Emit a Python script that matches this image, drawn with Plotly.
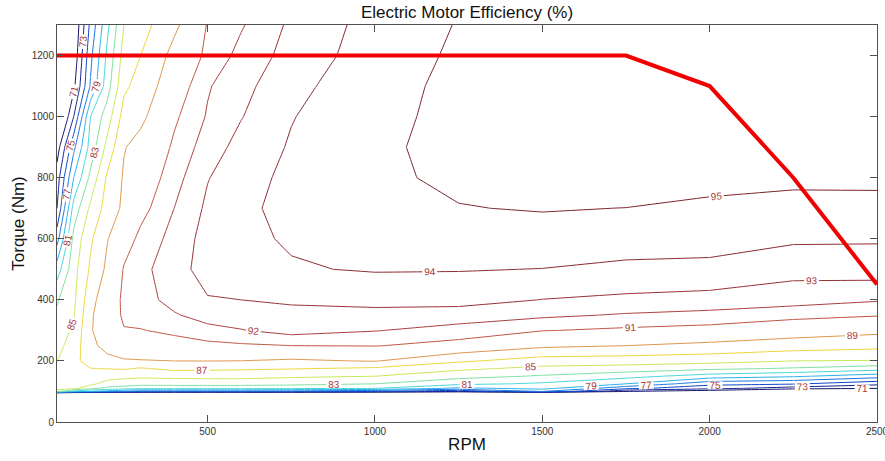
import plotly.graph_objects as go

# ---------------- data ----------------
rpm = [50, 100, 150, 200, 250, 300, 400, 500, 600, 750, 1000, 1250, 1500, 1750, 2000, 2250, 2500]
torque = [90, 100, 110, 125, 150, 175, 200, 250, 300, 350, 400, 500, 600, 700, 800, 900, 1000, 1100, 1200, 1300]

# efficiency (%) : one row per torque value, one column per rpm value
eff_t090 = [55, 56, 56, 56, 57, 58, 58, 58, 58, 58, 58, 58, 58, 58, 58, 58, 58]
eff_t100 = [84, 80, 79, 78, 77, 76, 76, 76, 76, 76, 75, 73, 77, 71, 69.5, 66, 64]
eff_t110 = [85.8, 85.5, 83.5, 82.5, 82.0, 81.5, 81.5, 81.5, 81.5, 81.3, 81.0, 78.5, 79.6, 75.5, 73.6, 72.0, 71.0]
eff_t125 = [86.0, 86.0, 85.5, 84.2, 84.0, 83.7, 83.8, 83.8, 83.8, 83.6, 83.0, 81.5, 80.7, 79.0, 75.6, 75.2, 73.6]
eff_t150 = [85.9, 86.4, 86.5, 85.9, 85.5, 85.4, 85.5, 85.6, 85.6, 85.3, 85.0, 83.7, 82.8, 81.7, 80.1, 79.3, 77.9]
eff_t175 = [85.5, 86.6, 86.95, 87.05, 87.2, 86.8, 87.5, 87.4, 87.3, 87.1, 86.7, 85.4, 84.5, 84.1, 83.4, 82.8, 81.9]
eff_t200 = [84.95, 86.5, 87.8, 88.3, 88.8, 88.9, 89.0, 89.02, 88.98, 88.75, 89.1, 87.3, 86.1, 86.0, 85.7, 85.0, 84.9]
eff_t250 = [84.3, 86.0, 88.4, 89.8, 90.3, 90.2, 90.5, 90.7, 90.85, 91.0, 91.05, 90.6, 89.4, 89.0, 88.55, 88.0, 87.6]
eff_t300 = [83.7, 85.4, 88.8, 90.3, 90.95, 90.95, 91.25, 91.7, 91.95, 92.4, 92.05, 91.6, 91.05, 90.8, 90.6, 90.0, 89.5]
eff_t350 = [83.3, 84.85, 88.7, 90.4, 91.15, 91.4, 91.9, 92.4, 92.55, 92.7, 92.75, 92.55, 92.2, 91.9, 91.7, 91.4, 91.1]
eff_t400 = [82.8, 84.6, 88.3, 90.3, 91.2, 91.6, 92.35, 92.95, 93.0, 93.15, 93.25, 93.35, 92.98, 92.8, 92.65, 92.4, 92.1]
eff_t500 = [80.0, 84.3, 87.3, 89.4, 91.1, 91.65, 92.7, 93.3, 93.6, 93.92, 94.08, 94.05, 93.98, 93.8, 93.78, 93.36, 93.5]
eff_t600 = [76.2, 83.6, 86.7, 88.9, 90.4, 91.3, 92.35, 93.4, 93.8, 94.1, 94.45, 94.6, 94.65, 94.45, 94.35, 94.15, 94.1]
eff_t700 = [73.0, 81.8, 85.4, 87.8, 89.4, 90.6, 92.0, 93.2, 93.75, 94.35, 94.8, 94.97, 95.05, 94.99, 94.88, 94.7, 94.65]
eff_t800 = [72.0, 79.0, 83.5, 87.3, 89.2, 90.1, 91.6, 92.95, 93.6, 94.25, 94.85, 95.15, 95.4, 95.5, 95.2, 95.2, 95.25]
eff_t900 = [70.0, 76.5, 81.8, 85.6, 88.9, 89.6, 91.2, 92.5, 93.35, 94.1, 94.85, 95.25, 95.45, 95.55, 95.55, 95.55, 95.55]
eff_t1000 = [67.0, 73.0, 81.0, 84.0, 87.8, 88.6, 90.8, 92.1, 92.95, 93.95, 94.8, 95.2, 95.5, 95.6, 95.65, 95.7, 95.75]
eff_t1100 = [65.0, 70.5, 77.2, 82.1, 86.6, 87.8, 90.2, 91.9, 92.7, 93.7, 94.7, 95.2, 95.5, 95.6, 95.7, 95.75, 95.8]
eff_t1200 = [63.0, 69.5, 76.5, 81.4, 85.8, 87.0, 89.6, 91.3, 92.3, 93.4, 94.5, 95.15, 95.45, 95.6, 95.7, 95.75, 95.8]
eff_t1300 = [62.0, 69.0, 75.5, 80.5, 85.0, 86.2, 88.6, 91.1, 91.9, 93.2, 94.4, 95.05, 95.4, 95.6, 95.7, 95.8, 95.85]

efficiency = [eff_t090, eff_t100, eff_t110, eff_t125, eff_t150, eff_t175, eff_t200, eff_t250,
              eff_t300, eff_t350, eff_t400, eff_t500, eff_t600, eff_t700, eff_t800, eff_t900,
              eff_t1000, eff_t1100, eff_t1200, eff_t1300]

# contour levels: 71..89 step 2, then 91..95 step 1
coarse_levels = [71, 73, 75, 77, 79, 81, 83, 85, 87, 89]
fine_levels = [91, 92, 93, 94, 95]

# maximum torque curve (red)
limit_rpm = [50, 1750, 2000, 2250, 2500]
limit_torque = [1200, 1200, 1100, 800, 450]

x_ticks = [500, 1000, 1500, 2000, 2500]
y_ticks = [0, 200, 400, 600, 800, 1000, 1200]

# ---------------- styling ----------------
FONT = "Liberation Sans, Arial, sans-serif"
# colour of each contour level (jet-like, as drawn in the reference)
level_colors = {
    71: "rgb(20,20,105)",
    73: "rgb(20,35,150)",
    75: "rgb(15,70,200)",
    77: "rgb(25,120,225)",
    79: "rgb(40,175,235)",
    81: "rgb(70,215,215)",
    83: "rgb(125,225,160)",
    85: "rgb(200,232,90)",
    87: "rgb(235,215,60)",
    89: "rgb(222,150,75)",
    91: "rgb(190,85,65)",
    92: "rgb(170,62,60)",
    93: "rgb(150,48,52)",
    94: "rgb(138,42,48)",
    95: "rgb(122,36,42)",
}


def scale_for(levels):
    lo, hi = levels[0], levels[-1]
    return [[(lv - lo) / (hi - lo), level_colors[lv]] for lv in levels]


label_font = dict(family=FONT, size=10, color="rgb(168,55,55)")

fig = go.Figure()
for levels in (coarse_levels, fine_levels):
    fig.add_trace(go.Contour(
        x=rpm, y=torque, z=efficiency,
        colorscale=scale_for(levels), showscale=False,
        autocontour=False,
        contours=dict(start=levels[0], end=levels[-1], size=levels[1] - levels[0],
                      coloring="lines", showlabels=True, labelfont=label_font),
        line=dict(width=1, smoothing=0),
        hoverinfo="skip",
    ))

fig.add_trace(go.Scatter(
    x=limit_rpm, y=limit_torque, mode="lines",
    line=dict(color="rgb(240,0,0)", width=4),
    hoverinfo="skip", showlegend=False,
))

axis_common = dict(
    showline=True, linecolor="#505050", linewidth=1, mirror="ticks",
    ticks="inside", tickcolor="#505050", ticklen=7, tickwidth=1,
    showgrid=False, zeroline=False, automargin=False,
    ticklabeloverflow="allow",
    tickfont=dict(family=FONT, size=10, color="#333333"),
)

fig.update_layout(
    width=885, height=461,
    margin=dict(l=57, r=8, t=25, b=39),
    paper_bgcolor="white", plot_bgcolor="white",
    showlegend=False,
    title=dict(text="Electric Motor Efficiency (%)", x=0.5, xref="paper", xanchor="center",
               y=1 - 12 / 461, yref="container", yanchor="middle",
               font=dict(family=FONT, size=17, color="#111111")),
    xaxis=dict(range=[50, 2500], tickvals=x_ticks, **axis_common,
               title=dict(text="RPM", font=dict(family=FONT, size=17, color="#111111"), standoff=2)),
    yaxis=dict(range=[0, 1300], tickvals=y_ticks, **axis_common,
               title=dict(text="Torque (Nm)", font=dict(family=FONT, size=17, color="#111111"), standoff=2)),
)

fig.write_html("out.html", config={"displayModeBar": False},
               post_script="document.body.style.margin='0px';")
